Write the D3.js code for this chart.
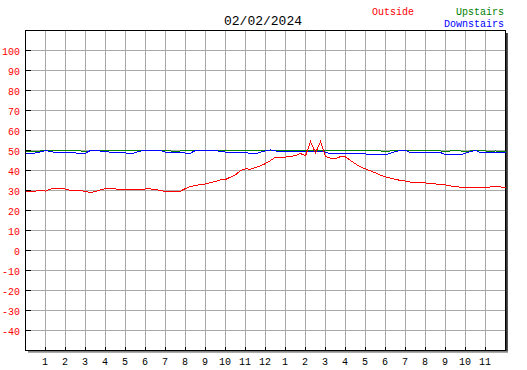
<!DOCTYPE html>
<html><head><meta charset="utf-8">
<script src="https://cdn.jsdelivr.net/npm/d3@7"></script>
<style>
html,body{margin:0;padding:0;background:#fff;}
svg{display:block;}
text{font-family:"Liberation Mono","DejaVu Sans Mono",monospace;}
</style></head>
<body>
<script>
const title = "02/02/2024";
const seriesNames = ["Outside","Upstairs","Downstairs"];
const seriesColors = ["#ff0000","#008000","#0000ff"];
const xTickLabels = ["1","2","3","4","5","6","7","8","9","10","11","12","1","2","3","4","5","6","7","8","9","10","11"];
const yTickValues = [-40,-30,-20,-10,0,10,20,30,40,50,60,70,80,90,100];

// 15-minute samples, 00:00 .. 24:00
const outside = [29.2,29.7,29.7,30.0,29.7,30.7,31.0,31.0,30.7,30.0,30.0,30.0,29.5,29.0,29.5,30.3,
 31.0,30.8,30.8,30.5,30.5,30.5,30.5,30.5,30.8,30.8,30.5,30.0,29.5,29.3,29.3,29.7,
 31.0,32.0,32.5,33.0,33.3,34.0,34.5,35.3,35.5,36.7,37.8,40.0,40.8,40.7,41.5,42.3,
 43.5,45.0,46.7,46.7,46.7,47.0,47.5,48.5,47.3,54.5,48.8,54.5,47.0,46.2,45.8,47.0,
 46.8,45.0,43.3,41.8,40.8,39.8,38.8,37.7,36.8,36.2,35.6,35.0,34.7,34.2,33.9,33.8,
 33.8,33.3,33.3,32.8,32.8,32.3,31.9,31.7,31.7,31.3,31.3,31.3,31.3,31.8,31.8,31.8,31.3];
const upstairs = [49.5,49.5,49.5,49.8,49.8,49.8,49.8,49.8,49.8,49.8,49.8,49.8,49.5,49.8,49.8,49.8,
 49.8,49.8,49.8,49.8,49.8,49.8,49.8,49.8,49.8,49.8,49.8,49.8,49.8,49.8,49.5,49.8,
 49.8,49.8,49.8,49.8,49.8,49.8,49.8,49.8,49.8,49.8,49.8,49.8,49.8,49.8,49.8,49.8,
 49.8,49.8,49.8,49.8,49.8,49.8,49.8,49.8,49.8,49.8,49.8,49.8,49.8,49.8,49.8,49.8,
 49.8,49.8,49.8,49.8,49.8,49.8,49.8,49.8,49.3,49.8,49.8,49.8,49.8,49.8,49.8,49.8,
 49.8,49.8,49.8,49.8,49.3,49.8,49.8,49.8,49.5,49.8,49.8,49.8,49.8,49.5,49.8,49.5,49.5];
const downstairs = [48.3,48.3,48.8,49.3,50.0,49.5,49.0,49.0,49.0,48.8,48.8,48.3,48.7,50.0,50.0,49.7,
 49.7,49.0,49.0,48.8,48.8,48.3,49.0,49.7,50.0,50.0,50.0,50.0,49.2,49.2,49.2,49.2,
 48.7,48.7,50.0,50.0,50.0,50.0,50.0,49.5,49.2,49.2,49.2,49.2,49.2,48.3,48.3,49.2,
 49.8,50.3,49.8,49.5,49.5,49.5,49.5,49.5,49.5,49.5,49.5,49.5,49.2,48.3,48.3,48.3,
 48.3,48.3,48.3,48.3,48.3,47.8,47.8,47.8,47.8,48.7,49.5,50.0,50.0,49.0,49.0,49.0,
 49.0,49.0,49.0,49.0,47.8,47.8,47.8,47.8,48.7,49.5,50.0,49.0,49.0,49.0,49.0,49.0,49.0];

const W = 527, H = 370;
const L = 25, R = 505, T = 30, B = 350;

const svg = d3.select("body").append("svg").attr("width", W).attr("height", H);

const x = d3.scaleLinear().domain([0, 24]).range([L, R]);
const y = d3.scaleLinear().domain([-50, 110]).range([B, T]);

const g = svg.append("g").attr("transform", "translate(0.5,0.5)").attr("shape-rendering", "crispEdges");

g.append("rect").attr("x", L).attr("y", T).attr("width", R - L).attr("height", B - T).attr("fill", "#fff");

g.selectAll("line.hg").data(yTickValues).join("line")
  .attr("x1", L).attr("x2", R).attr("y1", d => y(d)).attr("y2", d => y(d))
  .attr("stroke", "#a8a8a8");
g.selectAll("line.vg").data(xTickLabels).join("line")
  .attr("x1", (d, i) => x(i + 1)).attr("x2", (d, i) => x(i + 1))
  .attr("y1", T).attr("y2", B).attr("stroke", "#a8a8a8");

g.selectAll("line.yt").data(yTickValues).join("line")
  .attr("x1", L).attr("x2", L + 5).attr("y1", d => y(d)).attr("y2", d => y(d))
  .attr("stroke", "#000");
g.selectAll("line.xt").data(xTickLabels).join("line")
  .attr("x1", (d, i) => x(i + 1)).attr("x2", (d, i) => x(i + 1))
  .attr("y1", B - 4).attr("y2", B).attr("stroke", "#000");

g.append("line").attr("x1", R + 1).attr("x2", R + 1).attr("y1", T + 2).attr("y2", B + 2).attr("stroke", "#333");
g.append("line").attr("x1", R + 2).attr("x2", R + 2).attr("y1", T + 2).attr("y2", B + 2).attr("stroke", "#555");
g.append("line").attr("x1", L + 2).attr("x2", R + 2).attr("y1", B + 1).attr("y2", B + 1).attr("stroke", "#888");
g.append("line").attr("x1", L + 2).attr("x2", R + 2).attr("y1", B + 2).attr("y2", B + 2).attr("stroke", "#aaa");

g.append("rect").attr("x", L).attr("y", T).attr("width", R - L).attr("height", B - T)
  .attr("fill", "none").attr("stroke", "#000");

const line = d3.line().x((d, i) => x(i * 0.25)).y(d => y(d));
const order = [[upstairs, 1], [downstairs, 2], [outside, 0]];
order.forEach(([data, k]) => {
  g.append("path").datum(data).attr("d", line)
    .attr("fill", "none").attr("stroke", seriesColors[k]).attr("stroke-width", 1);
});

svg.selectAll("text.yl").data(yTickValues).join("text")
  .attr("x", 20).attr("y", d => y(d) + 5)
  .attr("text-anchor", "end").attr("font-size", 10).attr("fill", "#ff0000")
  .text(d => d);

svg.selectAll("text.xl").data(xTickLabels).join("text")
  .attr("x", (d, i) => x(i + 1)).attr("y", 365)
  .attr("text-anchor", "middle").attr("font-size", 10).attr("fill", "#000")
  .text(d => d);

svg.append("text").attr("x", 263).attr("y", 25).attr("text-anchor", "middle")
  .attr("font-size", 13).attr("fill", "#000").text(title);

svg.append("text").attr("x", 372).attr("y", 15).attr("font-size", 10).attr("fill", seriesColors[0]).text(seriesNames[0]);
svg.append("text").attr("x", 504).attr("y", 15).attr("text-anchor", "end").attr("font-size", 10).attr("fill", seriesColors[1]).text(seriesNames[1]);
svg.append("text").attr("x", 504).attr("y", 27).attr("text-anchor", "end").attr("font-size", 10).attr("fill", seriesColors[2]).text(seriesNames[2]);
</script>
</body></html>
